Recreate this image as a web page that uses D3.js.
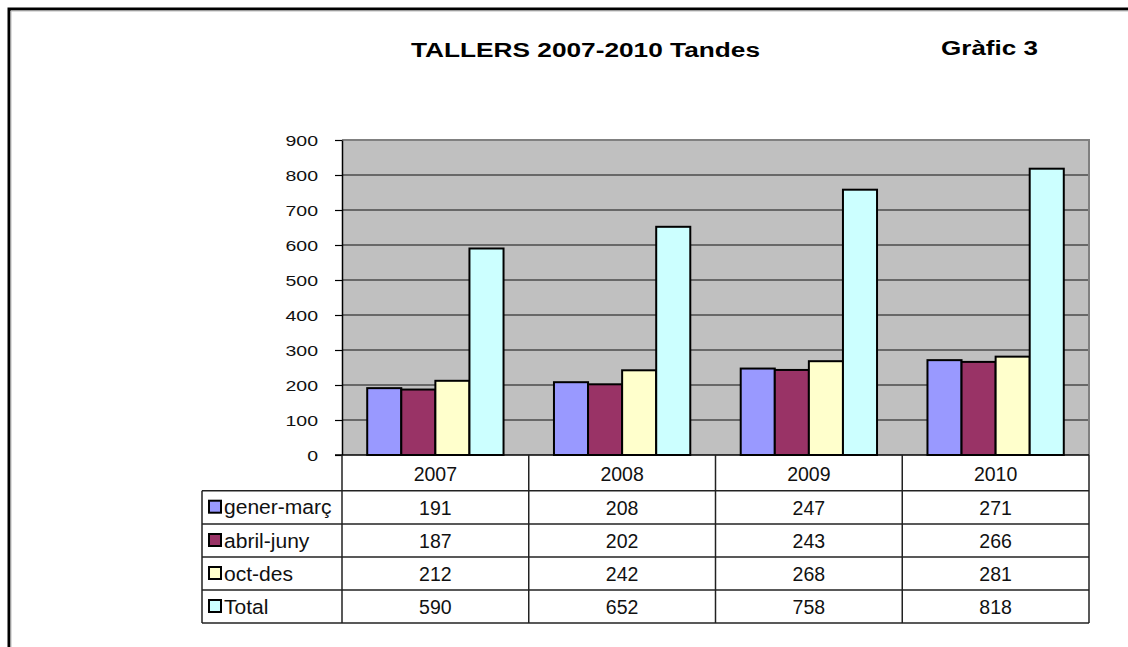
<!DOCTYPE html>
<html><head><meta charset="utf-8">
<script src="https://cdn.jsdelivr.net/npm/d3@7"></script>
<style>html,body{margin:0;padding:0;background:#fff;}svg{display:block;}</style>
</head><body>
<script>
const categories = ["2007", "2008", "2009", "2010"];
const seriesNames = ["gener-març", "abril-juny", "oct-des", "Total"];
const generMarc = [191, 208, 247, 271];
const abrilJuny = [187, 202, 243, 266];
const octDes = [212, 242, 268, 281];
const total = [590, 652, 758, 818];
const yTicks = [0, 100, 200, 300, 400, 500, 600, 700, 800, 900];
const seriesColors = ["#9999FF", "#993366", "#FFFFCC", "#CCFFFF"];
const seriesValues = [generMarc, abrilJuny, octDes, total];

const W = 1128, H = 647;
const svg = d3.select("body").append("svg").attr("width", W).attr("height", H);
const FONT = "'Liberation Sans', Arial, sans-serif";

// outer frame (top + left)
svg.append("path").attr("d", `M9,${H} L9,9 L${W},9`).attr("fill", "none")
  .attr("stroke", "#000").attr("stroke-width", 3);
svg.append("path").attr("d", `M11,${H} L11,11 L${W},11`).attr("fill", "none")
  .attr("stroke", "#bbb").attr("stroke-width", 1);

// titles
svg.append("text").attr("x", 411).attr("y", 57).attr("textLength", 349).attr("lengthAdjust", "spacingAndGlyphs")
  .attr("font-family", FONT).attr("font-weight", "bold").attr("font-size", 19.5).attr("fill", "#000")
  .text("TALLERS 2007-2010  Tandes");
svg.append("text").attr("x", 941).attr("y", 55).attr("textLength", 97).attr("lengthAdjust", "spacingAndGlyphs")
  .attr("font-family", FONT).attr("font-weight", "bold").attr("font-size", 21).attr("fill", "#000")
  .text("Gràfic 3");

const plotL = 342, plotR = 1089, plotT = 140, plotB = 455;
const x = d3.scaleBand().domain(categories).range([plotL, plotR]).paddingInner(0).paddingOuter(0);
const xs = d3.scaleBand().domain(seriesNames).range([0, x.bandwidth()]).paddingInner(0).paddingOuter(0.74);
const y = d3.scaleLinear().domain([0, 900]).range([plotB, plotT]);

// plot background
svg.append("rect").attr("x", plotL).attr("y", plotT).attr("width", plotR - plotL).attr("height", plotB - plotT)
  .attr("fill", "#C0C0C0");
svg.append("path").attr("d", `M${plotL},${plotT} L${plotR},${plotT} L${plotR},${plotB}`)
  .attr("fill", "none").attr("stroke", "#808080").attr("stroke-width", 2);

// gridlines
svg.append("g").selectAll("line").data(yTicks.filter(d => d > 0 && d < 900)).join("line")
  .attr("x1", plotL).attr("x2", plotR - 1).attr("y1", d => y(d)).attr("y2", d => y(d))
  .attr("stroke", "#111").attr("stroke-width", 1.2);

// bars
const groups = svg.append("g").selectAll("g").data(categories).join("g")
  .attr("transform", d => `translate(${x(d)},0)`);
groups.selectAll("rect").data((c, i) => seriesNames.map((s, k) => ({ s, k, v: seriesValues[k][i] })))
  .join("rect")
  .attr("x", d => xs(d.s)).attr("width", xs.bandwidth())
  .attr("y", d => y(d.v)).attr("height", d => plotB - y(d.v))
  .attr("fill", d => seriesColors[d.k]).attr("stroke", "#000").attr("stroke-width", 2);

// y axis
const yAxis = svg.append("g").attr("transform", `translate(${plotL},0)`)
  .call(d3.axisLeft(y).tickValues(yTicks).tickSize(7).tickSizeOuter(0));
yAxis.select(".domain").attr("stroke", "#000").attr("stroke-width", 1.5);
yAxis.selectAll(".tick line").attr("stroke", "#000").attr("stroke-width", 1.2);
yAxis.selectAll(".tick text").attr("x", -24 / 1.3).attr("dy", 5.5)
  .attr("transform", "scale(1.3,1)")
  .attr("font-family", FONT).attr("font-size", 15).attr("fill", "#111");

// x axis base line
svg.append("line").attr("x1", 335).attr("x2", plotR).attr("y1", plotB).attr("y2", plotB)
  .attr("stroke", "#000").attr("stroke-width", 1.5);

// data table
const rowTops = [490.7, 524, 557, 590];
const rowH = 33;
const tableL = 202, tableB = 623;
const tg = svg.append("g");
// horizontal lines
[490.7, 524, 557, 590, 623].forEach(yy => {
  tg.append("line").attr("x1", tableL).attr("x2", plotR).attr("y1", yy).attr("y2", yy)
    .attr("stroke", "#222").attr("stroke-width", 1.5);
});
// vertical lines
const colEdges = categories.map(c => x(c)).concat([plotR]);
colEdges.forEach(xx => {
  tg.append("line").attr("x1", xx).attr("x2", xx).attr("y1", plotB).attr("y2", tableB)
    .attr("stroke", "#222").attr("stroke-width", 1.5);
});
tg.append("line").attr("x1", tableL).attr("x2", tableL).attr("y1", 490.7).attr("y2", tableB)
  .attr("stroke", "#222").attr("stroke-width", 1.5);

// header years
tg.selectAll("text.year").data(categories).join("text").attr("class", "year")
  .attr("x", d => x(d) + x.bandwidth() / 2).attr("y", 481)
  .attr("text-anchor", "middle").attr("font-family", FONT).attr("font-size", 19.5).attr("fill", "#111")
  .text(d => d);

// rows
seriesNames.forEach((s, k) => {
  const cy = rowTops[k] + 16.5;
  tg.append("rect").attr("x", 209).attr("y", cy - 6.5).attr("width", 12).attr("height", 12)
    .attr("fill", seriesColors[k]).attr("stroke", "#000").attr("stroke-width", 2);
  tg.append("text").attr("transform", `translate(224,${cy + 7}) scale(1.08,1)`)
    .attr("font-family", FONT).attr("font-size", 19.5).attr("fill", "#111").text(s);
  tg.selectAll(null).data(categories).join("text")
    .attr("x", (c) => x(c) + x.bandwidth() / 2).attr("y", cy + 7.5)
    .attr("text-anchor", "middle").attr("font-family", FONT).attr("font-size", 19.5).attr("fill", "#111")
    .text((c, i) => seriesValues[k][i]);
});
</script>
</body></html>
